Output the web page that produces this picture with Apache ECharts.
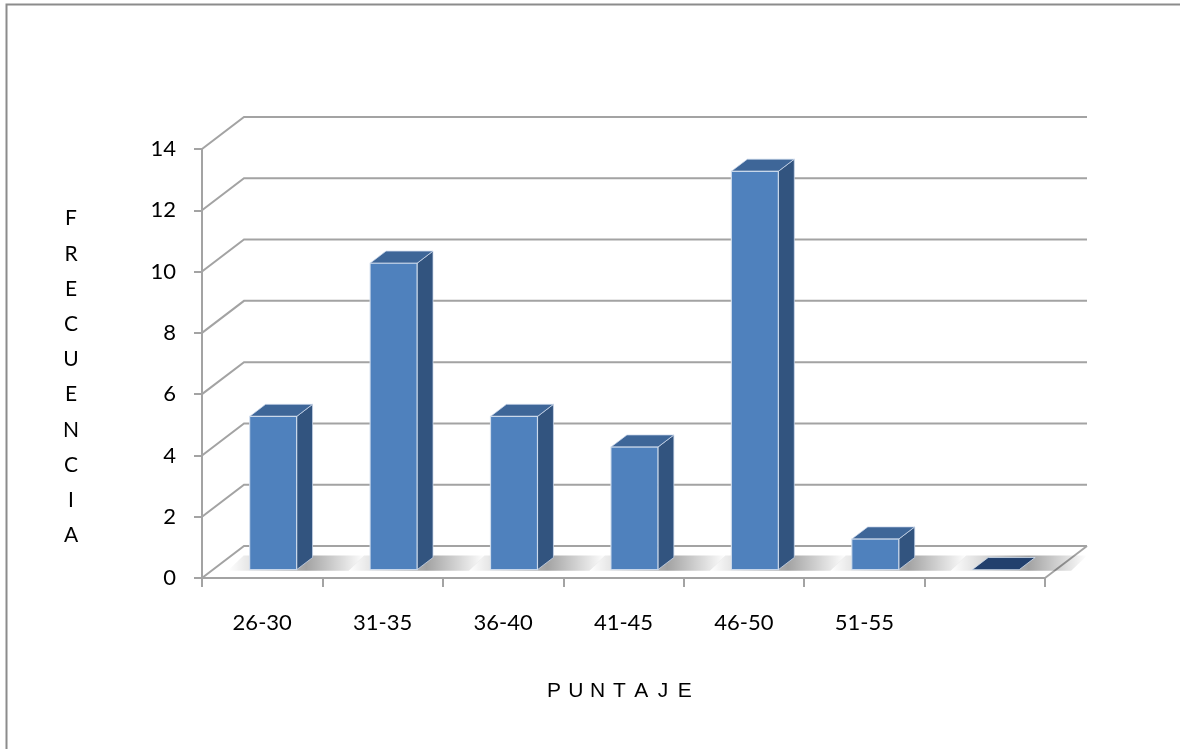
<!DOCTYPE html>
<html>
<head>
<meta charset="utf-8">
<script src="https://cdn.jsdelivr.net/npm/echarts@6/dist/echarts.min.js"></script>
<style>
  html, body { margin: 0; padding: 0; background: #fff; overflow: hidden; }
  #chart { width: 1180px; height: 749px; }
</style>
</head>
<body>
<div id="chart"></div>
<script>
// Score ranges and how many people fell in each
const categories = ['26-30', '31-35', '36-40', '41-45', '46-50', '51-55', ''];
const frequencies = [5, 10, 5, 4, 13, 1, 0];
const yTicks = [0, 2, 4, 6, 8, 10, 12, 14];
const yTitle = 'FRECUENCIA';
const xTitle = 'PUNTAJE';

// Pseudo-3D look: how far the back wall sits behind the front plane (px)
const DEPTH_X = 42, DEPTH_Y = -32;
// Bars occupy this slice of the floor depth
const FRONT = 0.26, BACK = 0.64;
const BAR_RATIO = 0.39;
const GRID_COLOR = '#a3a3a3';

function renderWalls(params, api) {
  const cs = params.coordSys;
  const left = cs.x, right = cs.x + cs.width;
  const children = [];
  yTicks.forEach(function (v) {
    const y = api.coord([0, v])[1];
    children.push({
      type: 'polyline',
      shape: { points: [[left, y], [left + DEPTH_X, y + DEPTH_Y], [right + DEPTH_X, y + DEPTH_Y]] },
      style: { stroke: GRID_COLOR, lineWidth: 2, fill: null }
    });
  });
  const y0 = api.coord([0, 0])[1];
  children.push({
    type: 'line',
    shape: { x1: right, y1: y0, x2: right + DEPTH_X, y2: y0 + DEPTH_Y },
    style: { stroke: GRID_COLOR, lineWidth: 2 }
  });
  return { type: 'group', children: children };
}

function renderBar(params, api) {
  const idx = api.value(0), val = api.value(1);
  const base = api.coord([idx, 0]);
  const top = api.coord([idx, val]);
  const band = api.size([1, 0])[0];
  const w = band * BAR_RATIO;
  const fx = DEPTH_X * FRONT, fy = DEPTH_Y * FRONT;
  const dx = DEPTH_X * (BACK - FRONT), dy = DEPTH_Y * (BACK - FRONT);
  const xl = base[0] + fx - w / 2, xr = xl + w;
  const yb = base[1] + fy, yt = top[1] + fy;
  const children = [];

  // soft floor shadow, darkest just right of the bar
  const sL = xl - 22, sR = xr + 52;
  const span = (sR + dx) - sL;
  children.push({
    type: 'polygon',
    shape: { points: [[sL, yb + 1], [sR, yb + 1], [sR + dx, yb + dy - 2], [sL + dx, yb + dy - 2]] },
    style: {
      fill: new echarts.graphic.LinearGradient(0, 0, 1, 0, [
        { offset: 0, color: 'rgba(0,0,0,0)' },
        { offset: (xl - sL) / span, color: 'rgba(0,0,0,0.10)' },
        { offset: (xr + dx * 0.6 - sL) / span, color: 'rgba(0,0,0,0.36)' },
        { offset: 1, color: 'rgba(0,0,0,0)' }
      ])
    }
  });

  if (val <= 0) {
    children.push({
      type: 'polygon',
      shape: { points: [[xl, yb], [xr, yb], [xr + dx, yb + dy], [xl + dx, yb + dy]] },
      style: { fill: '#22406d', stroke: 'rgba(210,222,238,0.8)', lineWidth: 1 }
    });
    return { type: 'group', children: children };
  }

  // right side face
  children.push({
    type: 'polygon',
    shape: { points: [[xr, yb], [xr, yt], [xr + dx, yt + dy], [xr + dx, yb + dy]] },
    style: { fill: '#32547f', stroke: 'rgba(205,218,236,0.75)', lineWidth: 1 }
  });
  // top face
  children.push({
    type: 'polygon',
    shape: { points: [[xl, yt], [xr, yt], [xr + dx, yt + dy], [xl + dx, yt + dy]] },
    style: { fill: '#3e6698', stroke: 'rgba(205,218,236,0.75)', lineWidth: 1 }
  });
  // front face
  children.push({
    type: 'rect',
    shape: { x: xl, y: yt, width: w, height: yb - yt },
    style: { fill: '#4f81bd', stroke: 'rgba(215,226,240,0.85)', lineWidth: 1.2 }
  });
  return { type: 'group', children: children };
}

const chart = echarts.init(document.getElementById('chart'), null, { renderer: 'canvas' });

const titleLetters = xTitle.split('').map(function (ch, i) {
  return {
    type: 'text',
    style: {
      text: ch, x: 554 + i * 21.8, y: 691,
      align: 'center', verticalAlign: 'middle',
      fontSize: 21, fontFamily: 'Liberation Sans, Arial, sans-serif', fill: '#000'
    }
  };
});

chart.setOption({
  animation: false,
  backgroundColor: '#fff',
  grid: { left: 202, right: 135, top: 149, bottom: 171 },
  xAxis: {
    type: 'category',
    data: categories,
    axisLine: { lineStyle: { color: GRID_COLOR, width: 2 } },
    axisTick: { show: true, length: 9, lineStyle: { color: GRID_COLOR, width: 2 } },
    axisLabel: { margin: 34, color: '#000', fontSize: 22, fontFamily: 'Lato, sans-serif' },
    splitLine: { show: false }
  },
  yAxis: {
    type: 'value',
    min: 0, max: 14, interval: 2,
    axisLine: { show: true, lineStyle: { color: GRID_COLOR, width: 2 } },
    axisTick: { show: true, length: 8, lineStyle: { color: GRID_COLOR, width: 2 } },
    axisLabel: { margin: 26, color: '#000', fontSize: 22, fontFamily: 'Lato, sans-serif' },
    splitLine: { show: false }
  },
  graphic: [
    // outer chart-area border (top and left edges)
    {
      type: 'polyline',
      shape: { points: [[6.5, 760], [6.5, 4.5], [1190, 4.5]] },
      style: { fill: null, stroke: '#8c8c8c', lineWidth: 2 }
    },
    {
      type: 'text',
      style: {
        text: yTitle.split('').join('\n'), x: 71, y: 377,
        align: 'center', verticalAlign: 'middle',
        fontSize: 21, lineHeight: 35.2, fontFamily: 'Lato, sans-serif', fill: '#000'
      }
    }
  ].concat(titleLetters),
  series: [
    {
      type: 'custom',
      name: 'walls',
      renderItem: renderWalls,
      data: [[0, 0]],
      silent: true,
      z: 1
    },
    {
      type: 'custom',
      name: 'frecuencia',
      renderItem: renderBar,
      data: frequencies.map(function (v, i) { return [i, v]; }),
      z: 3
    }
  ]
});
</script>
</body>
</html>
